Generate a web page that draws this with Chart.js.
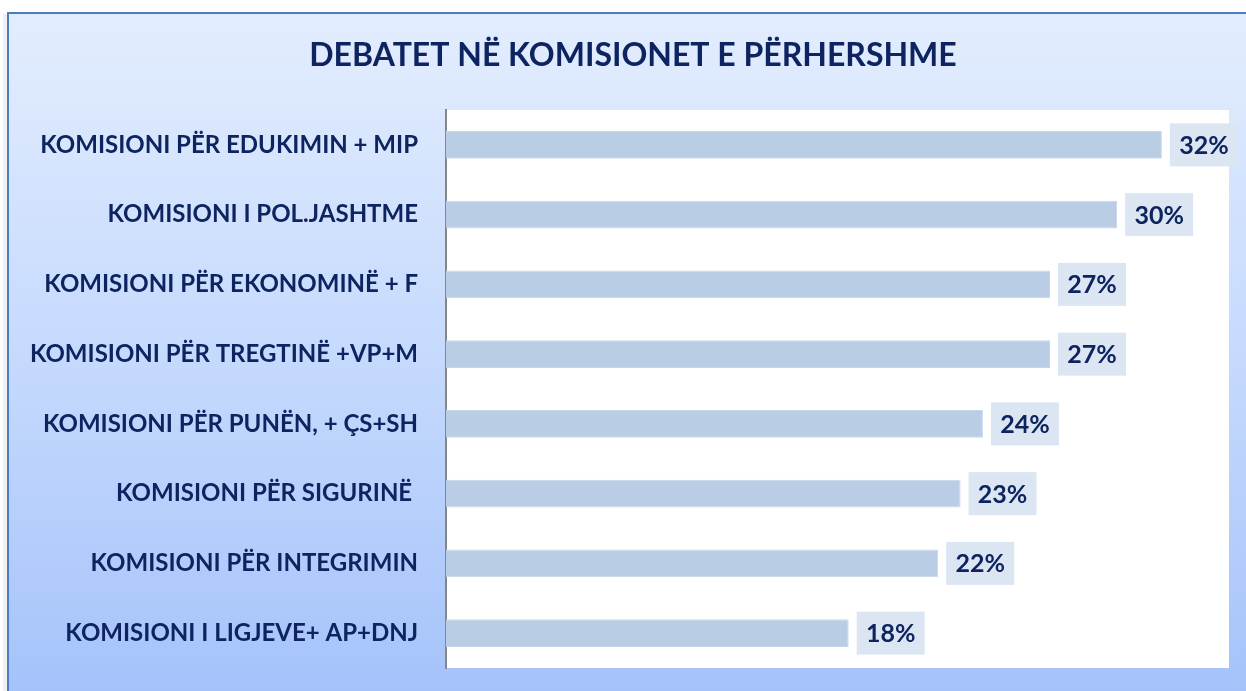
<!DOCTYPE html>
<html><head><meta charset="utf-8">
<script src="https://cdn.jsdelivr.net/npm/chart.js@4"></script>
<style>html,body{margin:0;padding:0;background:#fff;}#wrap{width:1246px;height:691px;}</style>
</head><body><div id="wrap"><canvas id="c" width="1246" height="691"></canvas></div>
<script>
const titleText = 'DEBATET NË KOMISIONET E PËRHERSHME';
const categories = [
  'KOMISIONI PËR EDUKIMIN + MIP',
  'KOMISIONI I POL.JASHTME',
  'KOMISIONI PËR EKONOMINË + F',
  'KOMISIONI PËR TREGTINË +VP+M',
  'KOMISIONI PËR PUNËN, + ÇS+SH',
  'KOMISIONI PËR SIGURINË ',
  'KOMISIONI PËR INTEGRIMIN',
  'KOMISIONI I LIGJEVE+ AP+DNJ'
];
const values = [32, 30, 27, 27, 24, 23, 22, 18];
const FONT = 'Lato, "Open Sans", sans-serif';
const NAVY = '#0d2461';

const bgPlugin = {
  id: 'bg',
  beforeDraw(chart) {
    const {ctx, chartArea: a, width, height} = chart;
    ctx.save();
    ctx.fillStyle = '#ffffff';
    ctx.fillRect(0, 0, width, height);
    ctx.fillStyle = 'rgba(0,0,0,0.06)';
    ctx.fillRect(3, 14, 5, height);
    const g = ctx.createLinearGradient(0, 12, 0, height);
    g.addColorStop(0, '#e3edfe');
    g.addColorStop(0.5, '#c6dafd');
    g.addColorStop(1, '#a5c3fa');
    ctx.fillStyle = g;
    ctx.fillRect(8, 13, width - 8, height - 13);
    ctx.strokeStyle = '#4a7ebf';
    ctx.lineWidth = 2;
    ctx.beginPath();
    ctx.moveTo(8, height);
    ctx.lineTo(8, 13);
    ctx.lineTo(width, 13);
    ctx.stroke();
    ctx.fillStyle = '#ffffff';
    ctx.fillRect(a.left, a.top, a.right - a.left, a.bottom - a.top);
    // title
    ctx.fillStyle = NAVY;
    ctx.font = 'bold 32px ' + FONT;
    ctx.textAlign = 'center';
    ctx.textBaseline = 'middle';
    ctx.fillText(titleText, 633, 56);
    ctx.restore();
  }
};

const labelPlugin = {
  id: 'vlabels',
  afterDatasetsDraw(chart) {
    const {ctx} = chart;
    const meta = chart.getDatasetMeta(0);
    ctx.save();
    ctx.font = 'bold 25px ' + FONT;
    ctx.textAlign = 'center';
    ctx.textBaseline = 'middle';
    meta.data.forEach((bar, i) => {
      const x0 = bar.x + 8, w = 68, h = 43;
      ctx.fillStyle = '#dce6f2';
      ctx.fillRect(x0, bar.y - h / 2, w, h);
      ctx.fillStyle = NAVY;
      ctx.fillText(values[i] + '%', x0 + w / 2, bar.y + 1);
    });
    ctx.restore();
  }
};

function build() {
  new Chart(document.getElementById('c'), {
    type: 'bar',
    data: {
      labels: categories,
      datasets: [{
        data: values,
        backgroundColor: '#b9cde5',
        borderColor: '#c6d6ea',
        borderWidth: 1,
        barPercentage: 0.4,
        categoryPercentage: 1.0
      }]
    },
    options: {
      indexAxis: 'y',
      responsive: false,
      animation: false,
      devicePixelRatio: 1,
      layout: {padding: {left: 0, right: 17, bottom: 23, top: 110}},
      plugins: {
        legend: {display: false},
        tooltip: {enabled: false},
        title: {display: false}
      },
      scales: {
        x: {display: false, min: 0, max: 35},
        y: {
          afterFit(scale) {
            scale.width = 446;
            scale.paddingTop = 0;
            scale.paddingBottom = 0;
          },
          grid: {display: false, drawTicks: false},
          border: {display: true, color: '#868686', width: 2},
          ticks: {
            color: NAVY,
            padding: 28,
            font: {family: FONT, size: 24, weight: 'bold'}
          }
        }
      }
    },
    plugins: [bgPlugin, labelPlugin]
  });
}
if (document.fonts && document.fonts.load) {
  Promise.all([
    document.fonts.load('bold 24px Lato'),
    document.fonts.load('bold 32px Lato')
  ]).then(build, build);
} else { build(); }
</script></body></html>
